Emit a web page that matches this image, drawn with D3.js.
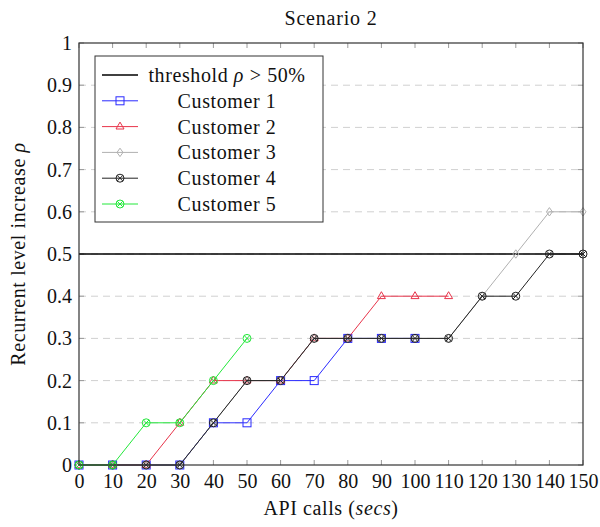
<!DOCTYPE html>
<html>
<head>
<meta charset="utf-8">
<script src="https://cdn.jsdelivr.net/npm/d3@7"></script>
<style>
  html, body { margin: 0; padding: 0; background: #fff; }
  svg text { font-family: "Liberation Serif", "DejaVu Serif", serif; fill: #111; }
</style>
</head>
<body>
<svg id="chart" width="600" height="527"></svg>
<script>
// API call times (secs)
const xValues = [0, 10, 20, 30, 40, 50, 60, 70, 80, 90, 100, 110, 120, 130, 140, 150];
const xTicks = [0, 10, 20, 30, 40, 50, 60, 70, 80, 90, 100, 110, 120, 130, 140, 150];
const yTicks = [0, 0.1, 0.2, 0.3, 0.4, 0.5, 0.6, 0.7, 0.8, 0.9, 1];
const threshold = 0.5;

// Recurrent level increase per customer
const customer1 = [0, 0, 0, 0, 0.1, 0.1, 0.2, 0.2, 0.3, 0.3, 0.3];
const customer2 = [0, 0, 0, 0.1, 0.2, 0.2, 0.2, 0.3, 0.3, 0.4, 0.4, 0.4];
const customer3 = [0, 0, 0, 0, 0.1, 0.2, 0.2, 0.3, 0.3, 0.3, 0.3, 0.3, 0.4, 0.5, 0.6, 0.6];
const customer4 = [0, 0, 0, 0, 0.1, 0.2, 0.2, 0.3, 0.3, 0.3, 0.3, 0.3, 0.4, 0.4, 0.5, 0.5];
const customer5 = [0, 0, 0.1, 0.1, 0.2, 0.3];

const seriesNames = ["Customer 1", "Customer 2", "Customer 3", "Customer 4", "Customer 5"];
const seriesValues = [customer1, customer2, customer3, customer4, customer5];
const seriesColors = ["#2a2aff", "#e8344a", "#b0b0b0", "#222222", "#22e83a"];
const seriesMarkers = ["square", "triangle", "diamond", "otimes", "otimes"];

const svg = d3.select("#chart");
const margin = { left: 79, top: 43, right: 583, bottom: 465 };
const fontSize = 20;

const x = d3.scaleLinear().domain([0, 150]).range([margin.left, margin.right]);
const y = d3.scaleLinear().domain([0, 1]).range([margin.bottom, margin.top]);

// Horizontal dashed grid
svg.append("g")
  .selectAll("line")
  .data(yTicks.filter(d => d > 0 && d < 1))
  .join("line")
  .attr("x1", margin.left).attr("x2", margin.right)
  .attr("y1", d => y(d)).attr("y2", d => y(d))
  .attr("stroke", "#d0d0d0").attr("stroke-width", 1)
  .attr("stroke-dasharray", "7,5");

// Axes with inward ticks
const tickColor = "#9a9a9a";
const xAxis = svg.append("g").attr("transform", `translate(0,${margin.bottom})`)
  .call(d3.axisBottom(x).tickValues(xTicks).tickSize(0).tickPadding(9).tickFormat(d3.format("d")));
xAxis.select(".domain").remove();
xAxis.selectAll("text").attr("font-size", fontSize).attr("fill", "#111")
  .style("font-family", "'Liberation Serif', serif");

const yAxis = svg.append("g").attr("transform", `translate(${margin.left},0)`)
  .call(d3.axisLeft(y).tickValues(yTicks).tickSize(0).tickPadding(7)
    .tickFormat(d => (d === 0 || d === 1) ? d3.format("d")(d) : d3.format(".1f")(d)));
yAxis.select(".domain").remove();
yAxis.selectAll("text").attr("font-size", fontSize).attr("fill", "#111")
  .style("font-family", "'Liberation Serif', serif");

const tickLen = 5;
const ticksG = svg.append("g").attr("stroke", tickColor).attr("stroke-width", 1);
xTicks.forEach(t => {
  ticksG.append("line").attr("x1", x(t)).attr("x2", x(t)).attr("y1", margin.bottom).attr("y2", margin.bottom - tickLen);
  ticksG.append("line").attr("x1", x(t)).attr("x2", x(t)).attr("y1", margin.top).attr("y2", margin.top + tickLen);
});
yTicks.forEach(t => {
  ticksG.append("line").attr("x1", margin.left).attr("x2", margin.left + tickLen).attr("y1", y(t)).attr("y2", y(t));
  ticksG.append("line").attr("x1", margin.right).attr("x2", margin.right - tickLen).attr("y1", y(t)).attr("y2", y(t));
});

// Threshold line
svg.append("line")
  .attr("x1", x(0)).attr("x2", x(150))
  .attr("y1", y(threshold)).attr("y2", y(threshold))
  .attr("stroke", "#000").attr("stroke-width", 1.6);

// Marker drawing
function drawMarker(g, type, cx, cy, color) {
  const r = 4;
  if (type === "square") {
    g.append("rect").attr("x", cx - r).attr("y", cy - r).attr("width", 2 * r).attr("height", 2 * r)
      .attr("fill", "none").attr("stroke", color).attr("stroke-width", 1);
  } else if (type === "triangle") {
    const p = [[cx, cy - r - 0.5], [cx - r, cy + r * 0.6], [cx + r, cy + r * 0.6]];
    g.append("path").attr("d", "M" + p.map(q => q.join(",")).join("L") + "Z")
      .attr("fill", "none").attr("stroke", color).attr("stroke-width", 1);
  } else if (type === "diamond") {
    const w = 3, h = 4.2;
    const p = [[cx, cy - h], [cx + w, cy], [cx, cy + h], [cx - w, cy]];
    g.append("path").attr("d", "M" + p.map(q => q.join(",")).join("L") + "Z")
      .attr("fill", "none").attr("stroke", color).attr("stroke-width", 1);
  } else if (type === "otimes") {
    g.append("circle").attr("cx", cx).attr("cy", cy).attr("r", r)
      .attr("fill", "none").attr("stroke", color).attr("stroke-width", 1);
    const d = r * 0.7;
    g.append("path").attr("d", `M${cx - d},${cy - d}L${cx + d},${cy + d}M${cx - d},${cy + d}L${cx + d},${cy - d}`)
      .attr("stroke", color).attr("stroke-width", 1);
  }
}

const line = d3.line().x(d => x(d.x)).y(d => y(d.y));

seriesValues.forEach((vals, i) => {
  const pts = vals.map((v, j) => ({ x: xValues[j], y: v }));
  const g = svg.append("g");
  g.append("path").datum(pts).attr("d", line)
    .attr("fill", "none").attr("stroke", seriesColors[i]).attr("stroke-width", 1);
  pts.forEach(p => drawMarker(g, seriesMarkers[i], x(p.x), y(p.y), seriesColors[i]));
});

// Plot frame
svg.append("rect")
  .attr("x", margin.left).attr("y", margin.top)
  .attr("width", margin.right - margin.left).attr("height", margin.bottom - margin.top)
  .attr("fill", "none").attr("stroke", "#333").attr("stroke-width", 1.2);

// Legend
const legend = svg.append("g");
const lgX = 95, lgY = 56, lgW = 228, lgH = 166;
legend.append("rect").attr("x", lgX).attr("y", lgY).attr("width", lgW).attr("height", lgH)
  .attr("fill", "#fff").attr("stroke", "#333").attr("stroke-width", 1);

const rowH = 25.8;
const row0 = lgY + 19;
const textCenter = 227;
legend.append("line").attr("x1", 102).attr("x2", 138).attr("y1", row0).attr("y2", row0)
  .attr("stroke", "#000").attr("stroke-width", 1.6);
const thrText = legend.append("text").attr("x", textCenter).attr("y", row0 + 7)
  .attr("text-anchor", "middle").attr("font-size", fontSize).attr("letter-spacing", 0.6);
thrText.append("tspan").text("threshold ");
thrText.append("tspan").attr("font-style", "italic").text("ρ");
thrText.append("tspan").text(" > 50%");

seriesNames.forEach((name, i) => {
  const cy = row0 + rowH * (i + 1);
  legend.append("line").attr("x1", 102).attr("x2", 138).attr("y1", cy).attr("y2", cy)
    .attr("stroke", seriesColors[i]).attr("stroke-width", 1);
  drawMarker(legend, seriesMarkers[i], 120, cy, seriesColors[i]);
  legend.append("text").attr("x", textCenter).attr("y", cy + 7)
    .attr("text-anchor", "middle").attr("font-size", fontSize).attr("letter-spacing", 0.6).text(name);
});

// Title and axis labels
svg.append("text").attr("x", (margin.left + margin.right) / 2).attr("y", 25)
  .attr("text-anchor", "middle").attr("font-size", fontSize).attr("letter-spacing", 0.8).text("Scenario 2");

const xl = svg.append("text").attr("x", (margin.left + margin.right) / 2).attr("y", 515)
  .attr("text-anchor", "middle").attr("font-size", fontSize).attr("letter-spacing", 0.6);
xl.append("tspan").text("API calls (");
xl.append("tspan").attr("font-style", "italic").text("secs");
xl.append("tspan").text(")");

const yl = svg.append("text")
  .attr("transform", `translate(25,${(margin.top + margin.bottom) / 2}) rotate(-90)`)
  .attr("text-anchor", "middle").attr("font-size", fontSize).attr("letter-spacing", 0.6);
yl.append("tspan").text("Recurrent level increase ");
yl.append("tspan").attr("font-style", "italic").text("ρ");
</script>
</body>
</html>
